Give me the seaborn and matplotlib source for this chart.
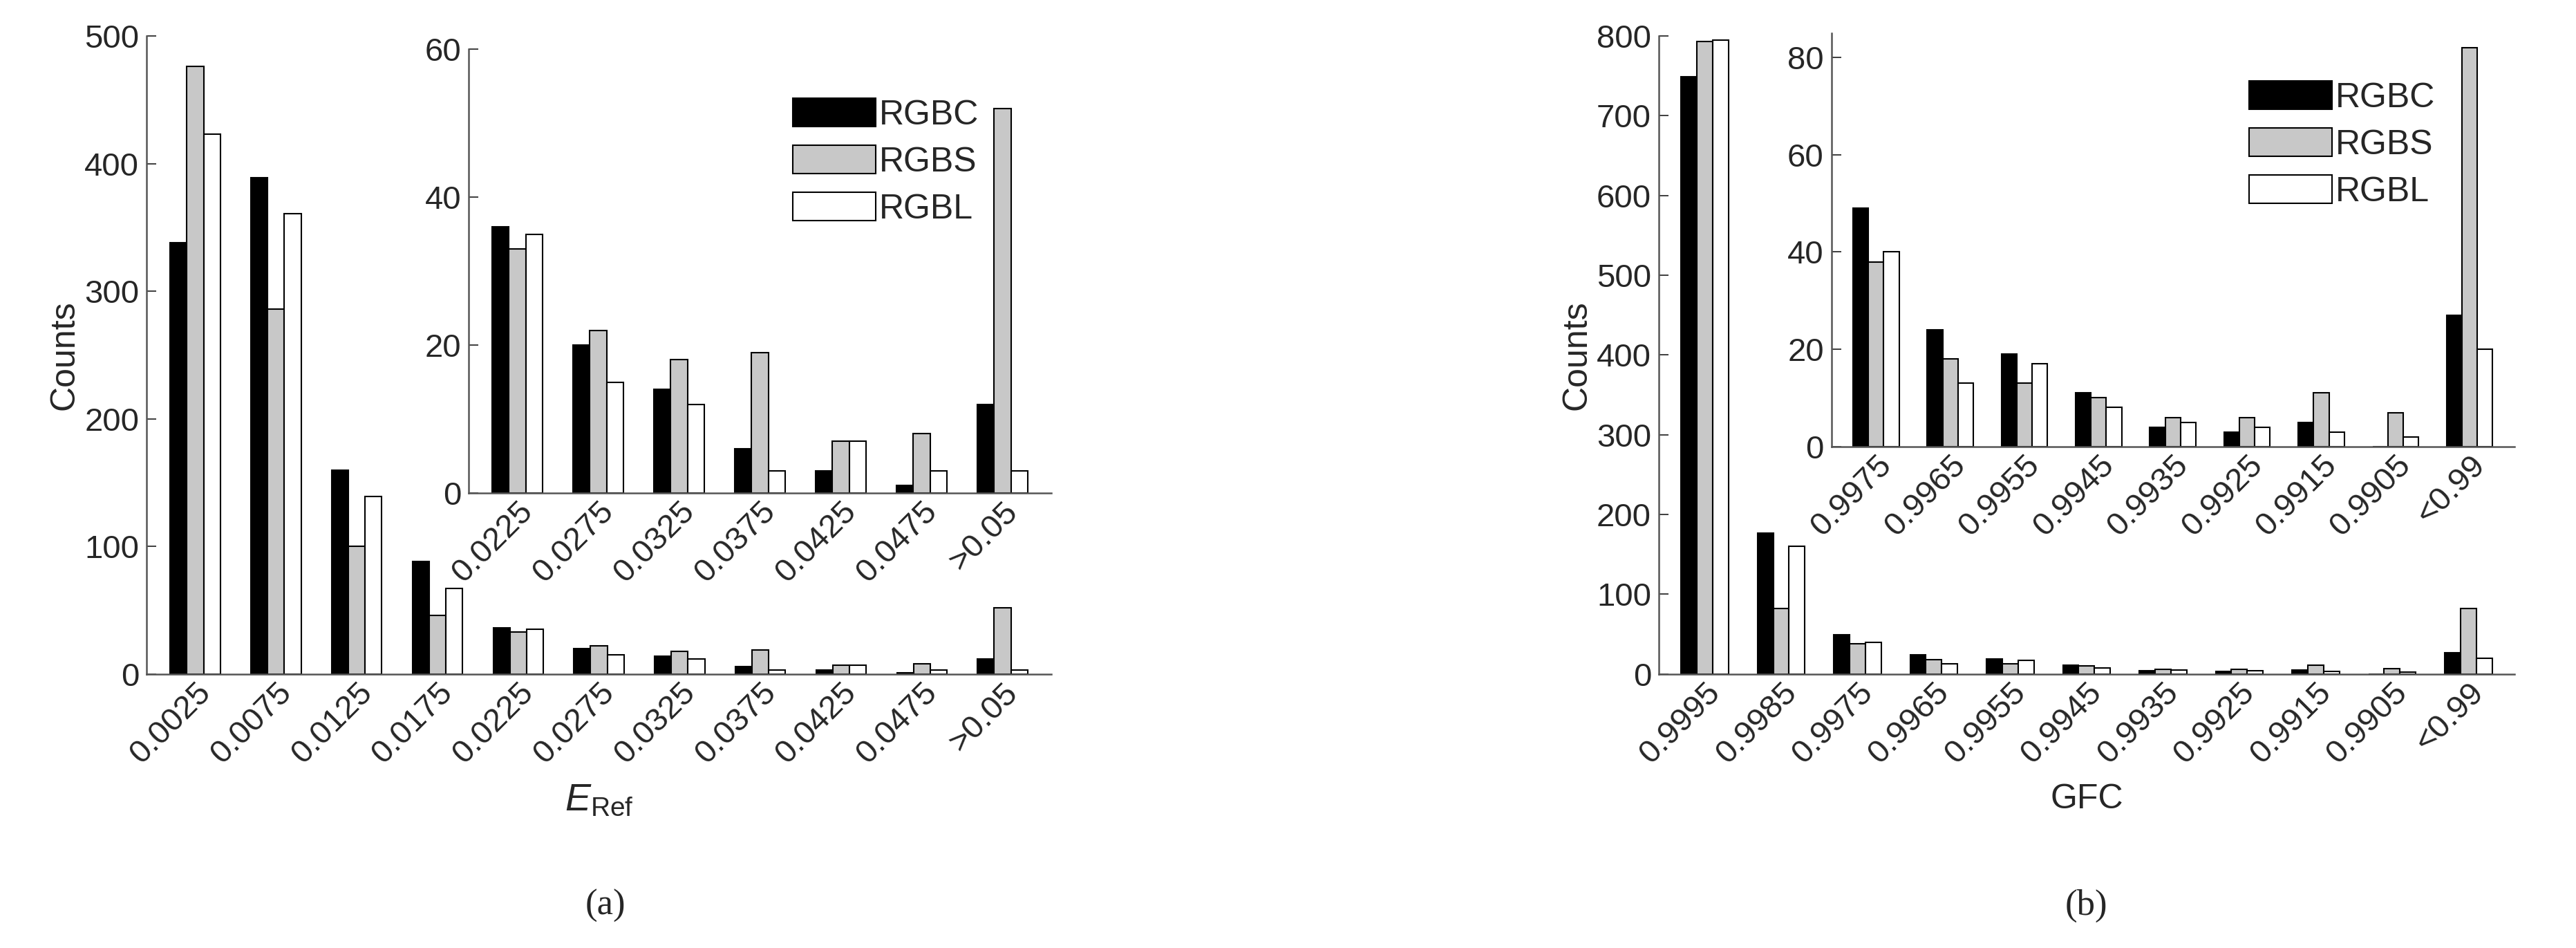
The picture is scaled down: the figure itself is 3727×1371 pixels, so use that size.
import pandas as pd
import seaborn as sns
import matplotlib.pyplot as plt

# ── Datos ─────────────────────────────────────────────────────────────────────
series = ["RGBC", "RGBS", "RGBL"]
colores = ["#000000", "#c8c8c8", "#ffffff"]

eref_cats = ["0.0025", "0.0075", "0.0125", "0.0175", "0.0225", "0.0275",
             "0.0325", "0.0375", "0.0425", "0.0475", ">0.05"]
eref_rgbc = [338, 389, 160, 88, 36, 20, 14, 6, 3, 1, 12]
eref_rgbs = [476, 286, 100, 46, 33, 22, 18, 19, 7, 8, 52]
eref_rgbl = [423, 361, 139, 67, 35, 15, 12, 3, 7, 3, 3]

gfc_cats = ["0.9995", "0.9985", "0.9975", "0.9965", "0.9955", "0.9945",
            "0.9935", "0.9925", "0.9915", "0.9905", "<0.99"]
gfc_rgbc = [749, 177, 49, 24, 19, 11, 4, 3, 5, 0, 27]
gfc_rgbs = [793, 82, 38, 18, 13, 10, 6, 6, 11, 7, 82]
gfc_rgbl = [795, 160, 40, 13, 17, 8, 5, 4, 3, 2, 20]

sns.set_theme(style="white")
plt.rcParams["font.family"] = ["Liberation Sans", "DejaVu Sans"]
plt.rcParams["mathtext.fontset"] = "custom"
plt.rcParams["mathtext.rm"] = "Liberation Sans"
plt.rcParams["mathtext.it"] = "Liberation Sans:italic"
FS = 34
GRIS = "#262626"


def a_largo(cats, c, s, l):
    df = pd.DataFrame({"cat": cats, "RGBC": c, "RGBS": s, "RGBL": l})
    return df.melt(id_vars="cat", var_name="serie", value_name="n")


def barras(ax, df, ylim, yticks, legend=False):
    sns.barplot(data=df, x="cat", y="n", hue="serie", hue_order=series,
                palette=colores, edgecolor="black", linewidth=1.5,
                width=0.62, ax=ax, legend=legend)
    ax.set_ylim(*ylim)
    ax.set_yticks(yticks)
    ax.set_xlim(-0.6, len(df["cat"].unique()) - 0.4)
    for sp in ["top", "right"]:
        ax.spines[sp].set_visible(False)
    for sp in ["left", "bottom"]:
        ax.spines[sp].set_color("#555555")
        ax.spines[sp].set_linewidth(1.8)
    ax.tick_params(axis="both", labelsize=FS, colors=GRIS, length=0)
    ax.tick_params(axis="y", direction="in", length=10, left=True, pad=8)
    for t in ax.get_xticklabels():
        t.set_rotation(45)
        t.set_ha("right")
        t.set_rotation_mode("anchor")
    ax.set_xlabel("")
    ax.set_ylabel("")
    ax.patch.set_alpha(0)
    if legend:
        leg = ax.legend(loc="upper right", bbox_to_anchor=(0.93, 0.96),
                        fontsize=FS + 2, frameon=False, handlelength=2.4,
                        handleheight=0.9, handletextpad=0.1, labelspacing=0.4)
        for t in leg.get_texts():
            t.set_color(GRIS)


fig = plt.figure(figsize=(37.27, 13.71), dpi=100)

# ── Panel (a) ─────────────────────────────────────────────────────────────────
df_a = a_largo(eref_cats, eref_rgbc, eref_rgbs, eref_rgbl)
ax_a = fig.add_axes([0.057, 0.289, 0.351, 0.673])
barras(ax_a, df_a, (0, 500), range(0, 501, 100))
ax_a.set_ylabel("Counts", fontsize=FS + 2, color=GRIS)
ax_a.set_xlabel(r"$\mathit{E}_{\mathrm{Ref}}$", fontsize=FS + 6, color=GRIS, labelpad=14)

ins_a = fig.add_axes([0.182, 0.48, 0.226, 0.468])
df_ai = df_a[df_a["cat"].isin(eref_cats[4:])]
barras(ins_a, df_ai, (0, 60), range(0, 61, 20), legend=True)

# ── Panel (b) ─────────────────────────────────────────────────────────────────
df_b = a_largo(gfc_cats, gfc_rgbc, gfc_rgbs, gfc_rgbl)
ax_b = fig.add_axes([0.644, 0.289, 0.332, 0.673])
barras(ax_b, df_b, (0, 800), range(0, 801, 100))
ax_b.set_ylabel("Counts", fontsize=FS + 2, color=GRIS)
ax_b.set_xlabel("GFC", fontsize=FS + 2, color=GRIS, labelpad=14)

ins_b = fig.add_axes([0.711, 0.529, 0.265, 0.436])
df_bi = df_b[df_b["cat"].isin(gfc_cats[2:])]
barras(ins_b, df_bi, (0, 85), range(0, 81, 20), legend=True)

fig.text(0.235, 0.035, "(a)", fontsize=FS + 4, family="Liberation Serif", ha="center")
fig.text(0.81, 0.035, "(b)", fontsize=FS + 4, family="Liberation Serif", ha="center")

fig.savefig("out.png", dpi=100)
